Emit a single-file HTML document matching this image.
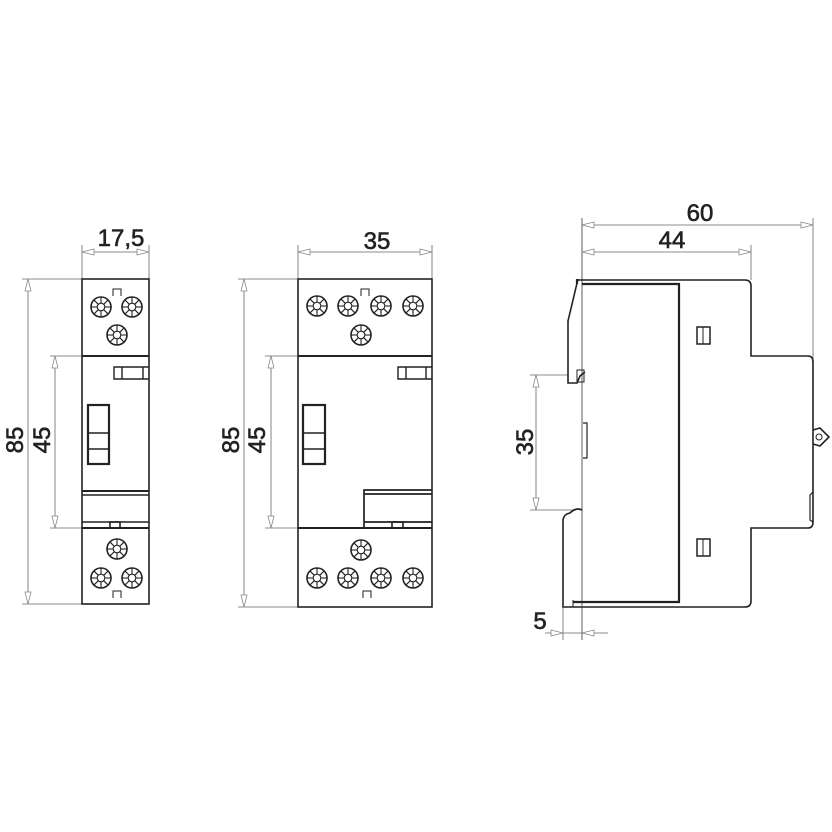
<!DOCTYPE html>
<html><head><style>html,body{margin:0;padding:0;background:#fff}svg{display:block}</style></head>
<body>
<svg width="832" height="832" viewBox="0 0 832 832" xmlns="http://www.w3.org/2000/svg" font-family="Liberation Sans, Arial, sans-serif">
<defs>
<g id="sc">
<circle r="10" fill="#fff" stroke="#222" stroke-width="1.6"/>
<circle r="3.8" fill="none" stroke="#222" stroke-width="1.1"/>
<g stroke="#222" stroke-width="1.1">
<line x1="0" y1="-3.8" x2="0" y2="-9.5"/><line x1="0" y1="3.8" x2="0" y2="9.5"/>
<line x1="-3.8" y1="0" x2="-9.5" y2="0"/><line x1="3.8" y1="0" x2="9.5" y2="0"/>
<line x1="2.7" y1="2.7" x2="6.7" y2="6.7"/><line x1="-2.7" y1="2.7" x2="-6.7" y2="6.7"/>
<line x1="2.7" y1="-2.7" x2="6.7" y2="-6.7"/><line x1="-2.7" y1="-2.7" x2="-6.7" y2="-6.7"/>
</g></g>
<path id="aL" d="M0 0 L12 -3 L12 3 Z" fill="#fff" stroke="#888" stroke-width="0.8"/>
</defs>
<g stroke="#666" stroke-width="0.8" fill="none">
<line x1="82" y1="252" x2="149" y2="252"/><line x1="82" y1="245" x2="82" y2="279"/><line x1="149" y1="245" x2="149" y2="279"/>
<line x1="22" y1="279" x2="82" y2="279"/><line x1="22" y1="604" x2="112" y2="604"/>
<line x1="28" y1="279" x2="28" y2="604"/>
<line x1="50" y1="356" x2="82" y2="356"/><line x1="50" y1="528" x2="82" y2="528"/>
<line x1="55" y1="356" x2="55" y2="528"/>
<line x1="298" y1="252" x2="432" y2="252"/><line x1="298" y1="245" x2="298" y2="279"/><line x1="432" y1="245" x2="432" y2="279"/>
<line x1="238" y1="279" x2="298" y2="279"/><line x1="238" y1="607" x2="298" y2="607"/>
<line x1="244" y1="279" x2="244" y2="607"/>
<line x1="265" y1="356" x2="298" y2="356"/><line x1="265" y1="528" x2="298" y2="528"/>
<line x1="271" y1="356" x2="271" y2="528"/>
<line x1="582" y1="218" x2="582" y2="640" stroke="#333"/>
<line x1="582" y1="225" x2="813" y2="225"/><line x1="813" y1="218" x2="813" y2="450"/>
<line x1="582" y1="252" x2="751" y2="252"/><line x1="751" y1="245" x2="751" y2="280"/>
<line x1="530" y1="375" x2="568" y2="375"/><line x1="530" y1="510" x2="575" y2="510"/>
<line x1="536" y1="375" x2="536" y2="510"/>
<line x1="545" y1="633" x2="608" y2="633"/><line x1="563" y1="607" x2="563" y2="640"/>
</g>
<g>
<use href="#aL" transform="translate(82,252)"/><use href="#aL" transform="translate(149,252) rotate(180)"/>
<use href="#aL" transform="translate(28,279) rotate(90)"/><use href="#aL" transform="translate(28,604) rotate(-90)"/>
<use href="#aL" transform="translate(55,356) rotate(90)"/><use href="#aL" transform="translate(55,528) rotate(-90)"/>
<use href="#aL" transform="translate(298,252)"/><use href="#aL" transform="translate(432,252) rotate(180)"/>
<use href="#aL" transform="translate(244,279) rotate(90)"/><use href="#aL" transform="translate(244,607) rotate(-90)"/>
<use href="#aL" transform="translate(271,356) rotate(90)"/><use href="#aL" transform="translate(271,528) rotate(-90)"/>
<use href="#aL" transform="translate(582,225)"/><use href="#aL" transform="translate(813,225) rotate(180)"/>
<use href="#aL" transform="translate(582,252)"/><use href="#aL" transform="translate(751,252) rotate(180)"/>
<use href="#aL" transform="translate(536,375) rotate(90)"/><use href="#aL" transform="translate(536,510) rotate(-90)"/>
<use href="#aL" transform="translate(563,633) rotate(180)"/><use href="#aL" transform="translate(582,633)"/>
</g>
<g font-size="24" fill="#222" stroke="#222" stroke-width="0.6" text-anchor="middle">
<text x="121" y="246">17,5</text>
<text x="377" y="249">35</text>
<text x="700" y="221">60</text>
<text x="672" y="248">44</text>
<text x="540" y="629">5</text>
<text transform="translate(23,440) rotate(-90)">85</text>
<text transform="translate(50,440) rotate(-90)">45</text>
<text transform="translate(239,440) rotate(-90)">85</text>
<text transform="translate(265,440) rotate(-90)">45</text>
<text transform="translate(533,442) rotate(-90)">35</text>
</g>
<g stroke="#222" stroke-width="1.6" fill="none">
<rect x="82" y="279" width="67" height="325"/>
<line x1="82" y1="356" x2="149" y2="356" stroke-width="2"/>
<line x1="82" y1="528" x2="149" y2="528" stroke-width="2"/>
<line x1="82" y1="491" x2="149" y2="491" stroke-width="2"/><line x1="82" y1="495" x2="149" y2="495"/>
<line x1="82" y1="522" x2="149" y2="522"/>
<rect x="110" y="522" width="10" height="6"/>
<rect x="88" y="405" width="21" height="59" stroke-width="2.2"/>
<line x1="88" y1="433" x2="109" y2="433"/><line x1="88" y1="449" x2="109" y2="449"/>
<path d="M149 367 H114 V379 H149 M122 367 V379 M143 367 V379" stroke-width="1.4"/>
<path d="M113 296 V289 H121 V296 M113 598 V591 H121 V598" stroke-width="1"/>
<rect x="298" y="279" width="134" height="328"/>
<line x1="298" y1="356" x2="432" y2="356" stroke-width="2"/>
<line x1="298" y1="528" x2="432" y2="528" stroke-width="2"/>
<path d="M364 528 V490 H432 M364 494 H432 M364 522 H432" stroke-width="1.7"/>
<rect x="392" y="522" width="11" height="6"/>
<rect x="303" y="405" width="22" height="59" stroke-width="2.2"/>
<line x1="303" y1="433" x2="325" y2="433"/><line x1="303" y1="449" x2="325" y2="449"/>
<path d="M432 367 H398 V379 H432 M406 367 V379 M426 367 V379" stroke-width="1.4"/>
<path d="M361 296 V289 H369 V296 M363 598 V591 H371 V598" stroke-width="1"/>
<path d="M577 280 H745 Q751 280 751 286 V356 H808 Q813 356 813 362 V522 Q813 528 808 528 H751 V601 Q751 607 745 607 H563 V520 Q564 514 570 513 Q576 507 582 510"/>
<path d="M578 279 L568 321 V383 H577 L580 376 L585 372"/>
<rect x="577" y="370" width="7" height="12" stroke-width="1"/>
<path d="M582 284 H679 V602 H573 M577 284 V279" stroke-width="2.2"/>
<path d="M573 607 V600" stroke-width="1"/>
<rect x="697" y="327" width="13" height="17" stroke-width="1.5"/><line x1="703" y1="327" x2="703" y2="344" stroke-width="1"/>
<rect x="697" y="539" width="13" height="17" stroke-width="1.5"/><line x1="703" y1="539" x2="703" y2="556" stroke-width="1"/>
<path d="M813 430 L820 428 L829 437 L820 446 L813 444"/><circle cx="819" cy="437" r="3" stroke-width="1"/>
<path d="M583 423 H587 V458 H583" stroke-width="1.2"/>
<path d="M813 492 L810 495 V520 L813 522" stroke-width="1.2"/>
</g>
<g>
<use href="#sc" x="101" y="307"/><use href="#sc" x="132" y="307"/><use href="#sc" x="117" y="335"/>
<use href="#sc" x="117" y="549"/><use href="#sc" x="101" y="578"/><use href="#sc" x="132" y="578"/>
<use href="#sc" x="317" y="306"/><use href="#sc" x="348" y="306"/><use href="#sc" x="381" y="306"/><use href="#sc" x="413" y="306"/>
<use href="#sc" x="361" y="335"/><use href="#sc" x="361" y="550"/>
<use href="#sc" x="317" y="578"/><use href="#sc" x="348" y="578"/><use href="#sc" x="381" y="578"/><use href="#sc" x="413" y="578"/>
</g>
</svg>
</body></html>
